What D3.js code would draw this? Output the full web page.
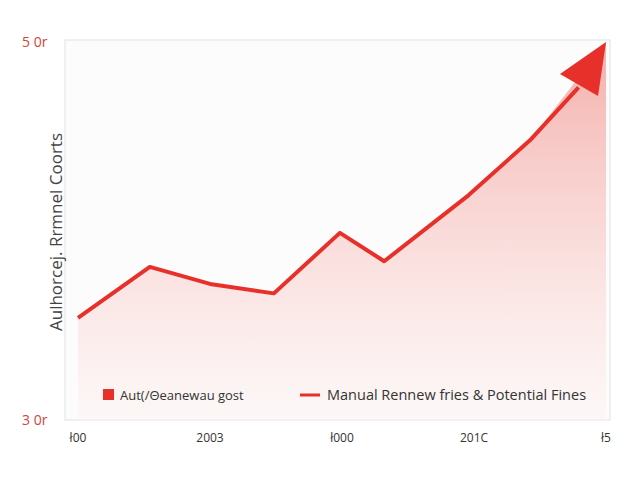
<!DOCTYPE html>
<html><head><meta charset="utf-8">
<script src="https://cdn.jsdelivr.net/npm/d3@7"></script>
<style>body{margin:0;background:#fff}text{font-family:"Open Sans",sans-serif}</style>
</head><body><div id="chart"></div>
<script>
// chart data
var xPosVals = [0, 13.6, 25, 37.1, 49.6, 58, 74, 85.6, 100];
var costVals = [35.4, 38.1, 37.2, 36.7, 39.9, 38.4, 41.9, 44.8, 50];
var xTickVals = [0, 25, 50, 75, 100];
var xTickLabels = ["ł00", "2003", "ł000", "201C", "ł5"];
var yTickVals = [30, 50];
var yTickLabels = ["3 0r", "5 0r"];

var width = 640, height = 480;
var svg = d3.select("#chart").append("svg").attr("width", width).attr("height", height);

var x = d3.scaleLinear().domain([0, 100]).range([78, 606]);
var y = d3.scaleLinear().domain([30, 50]).range([420, 42]);

var defs = svg.append("defs");
var grad = defs.append("linearGradient").attr("id", "fillGrad")
  .attr("x1", 0).attr("y1", 0).attr("x2", 0).attr("y2", 1);
grad.append("stop").attr("offset", "0%").attr("stop-color", "#f3a6a2").attr("stop-opacity", 0.9);
grad.append("stop").attr("offset", "100%").attr("stop-color", "#fdf3f2").attr("stop-opacity", 0.5);

// frame
svg.append("rect").attr("x", 65).attr("y", 40).attr("width", 545).attr("height", 380)
  .attr("fill", "#fcfcfc").attr("stroke", "#e2e2e2");

var pts = xPosVals.map(function(d, i) { return [d, costVals[i]]; });

svg.append("path").datum(pts)
  .attr("d", d3.area().x(function(d){return x(d[0]);}).y0(y(30)).y1(function(d){return y(d[1]);}))
  .attr("fill", "url(#fillGrad)");

// line stops where the arrow head starts
var lineData = pts.slice(0, -1).concat([[94.8, 47.6]]);
svg.append("path").datum(lineData)
  .attr("d", d3.line().x(function(d){return x(d[0]);}).y(function(d){return y(d[1]);}))
  .attr("fill", "none").attr("stroke", "#e8302a").attr("stroke-width", 4).attr("stroke-linejoin", "round");

var tip = [x(100), y(50)];
svg.append("path")
  .attr("d", "M" + tip + "L" + (tip[0] - 46) + "," + (tip[1] + 32) + "L" + (tip[0] - 8) + "," + (tip[1] + 54) + "Z")
  .attr("fill", "#e8302a");

// axes labels
svg.selectAll(".xt").data(xTickVals).enter().append("text")
  .attr("x", function(d){return x(d);}).attr("y", 442).attr("text-anchor", "middle")
  .attr("font-size", 12).attr("fill", "#333")
  .text(function(d, i){return xTickLabels[i];});
svg.selectAll(".yt").data(yTickVals).enter().append("text")
  .attr("x", 22).attr("y", function(d){return y(d) + 5;})
  .attr("font-size", 14).attr("fill", "#d0453c")
  .text(function(d, i){return yTickLabels[i];});

svg.append("text").attr("transform", "translate(62,232) rotate(-90)")
  .attr("text-anchor", "middle").attr("font-size", 17).attr("fill", "#444")
  .text("Aulhorcej. Rrmnel Coorts");

// legend
svg.append("rect").attr("x", 103).attr("y", 389).attr("width", 11).attr("height", 11).attr("fill", "#e8302a");
svg.append("text").attr("x", 120).attr("y", 400).attr("font-size", 13).attr("fill", "#333").text("Aut(/Θeanewau gost");
svg.append("line").attr("x1", 300).attr("x2", 320).attr("y1", 395).attr("y2", 395).attr("stroke", "#e8302a").attr("stroke-width", 3);
svg.append("text").attr("x", 327).attr("y", 400).attr("font-size", 14.5).attr("fill", "#333").text("Manual Rennew fries & Potential Fines");
</script></body></html>
